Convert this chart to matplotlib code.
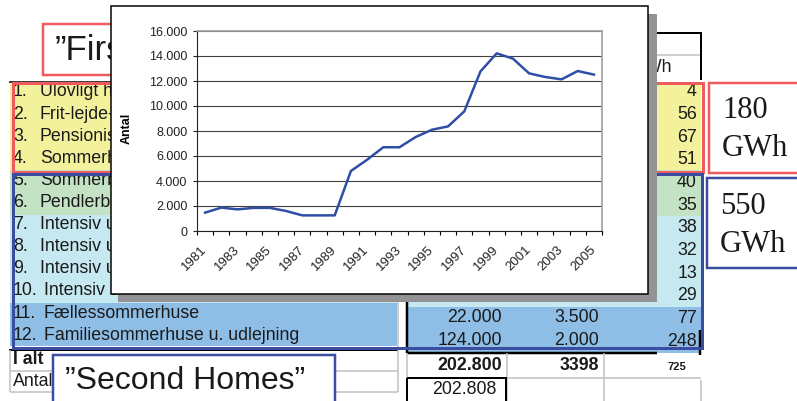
import matplotlib.pyplot as plt
from matplotlib.patches import Rectangle

plt.rcParams['font.family'] = ['Liberation Sans', 'DejaVu Sans']

# line chart data (Antal per year)
years = list(range(1981, 2006))
antal = [1470, 1870, 1730, 1850, 1850, 1600, 1250, 1250, 1250, 4800,
         5700, 6700, 6700, 7520, 8100, 8370, 9570, 12770, 14210, 13790,
         12610, 12320, 12130, 12800, 12510]

# background table (row labels only as far as they show behind the chart)
row_labels = ["Ulovligt h", "Frit-lejde-", "Pensionis", "Sommerh", "Sommerb",
              "Pendlerbo", "Intensiv u", "Intensiv u", "Intensiv u", "Intensiv u",
              "Fællessommerhuse", "Familiesommerhuse u. udlejning"]
gwh = [4, 56, 67, 51, 40, 35, 38, 32, 13, 29, 77, 248]
antal_col = ["", "", "", "", "", "", "", "", "", "", "22.000", "124.000"]
forbrug_col = ["", "", "", "", "", "", "", "", "", "", "3.500", "2.000"]
total_antal = "202.800"
total_forbrug = "3398"
total_gwh = "725"
antal_check = "202.808"
first_gwh = ["180", "GWh"]
second_gwh = ["550", "GWh"]

YELLOW = '#f4f19c'
GREEN = '#c4e2c4'
LBLUE = '#c6e8f0'
MBLUE = '#8ebee6'
RED = '#ee5a5e'
BLUE = '#3b4da0'
TXT = '#1a1a1a'
PX = 0.72  # points per pixel at dpi 100
FS = 12.8

fig = plt.figure(figsize=(7.97, 4.01), dpi=100)
bg = fig.add_axes([0, 0, 1, 1])
bg.set_xlim(0, 797)
bg.set_ylim(401, 0)
bg.axis('off')


def box(x0, y0, x1, y1, fc='none', ec='none', lw=0, z=1):
    bg.add_patch(Rectangle((x0, y0), x1 - x0, y1 - y0, facecolor=fc,
                           edgecolor=ec, linewidth=lw * PX, zorder=z))


def line(xs, ys, c, lw, z=3):
    bg.plot(xs, ys, color=c, lw=lw * PX, zorder=z, solid_capstyle='butt')


# row fills, left and right part of the table
for x0, x1, bands in [(10, 397, [(83, 170, YELLOW), (170, 215, GREEN), (215, 303, LBLUE), (303, 346, MBLUE)]),
                      (408, 701, [(83, 170, YELLOW), (170, 216, GREEN), (216, 307, LBLUE), (307, 353, MBLUE)])]:
    for y0, y1, c in bands:
        box(x0, y0, x1, y1, fc=c, z=1)

# row texts
for i, (lab, v) in enumerate(zip(row_labels, gwh)):
    yl = 92 + 22.1 * i
    yr = 91.7 + 22.7 * i
    bg.text(13, yl, f"{i + 1}.", fontsize=FS, color=TXT, va='center', zorder=2)
    bg.text(40 if i < 9 else 44, yl, lab, fontsize=FS, color=TXT, va='center', zorder=2)
    bg.text(697, yr, str(v), fontsize=FS, color=TXT, va='center', ha='right', zorder=2)
    if antal_col[i]:
        bg.text(502, yr - 1, antal_col[i], fontsize=FS, color=TXT, va='center', ha='right', zorder=2)
        bg.text(599, yr - 1, forbrug_col[i], fontsize=FS, color=TXT, va='center', ha='right', zorder=2)

# table lines
line([9, 120], [82, 82], 'black', 1.5)
line([9, 398], [350, 350], 'black', 2)
for y in (371, 392):
    line([10, 398], [y, y], '#c0c0c0', 1.5)
line([10, 10], [350, 392], '#c0c0c0', 1.5)
line([398, 398], [300, 392], '#c0c0c0', 1.5)
line([407, 407], [300, 353], 'black', 2.5)
line([407, 657], [353, 353], 'black', 2.5)
line([700.5, 700.5], [330, 355], 'black', 2.5)
line([507, 701], [378, 378], '#c0c0c0', 1.5)
for x in (407, 507, 604):
    line([x, x], [353, 401], '#c0c0c0', 1.5)
line([701, 701], [380, 401], '#c0c0c0', 1.5)
box(407, 378, 506, 405, ec='black', lw=2, z=3)

# totals
bg.text(13, 360, "I alt", fontsize=FS, fontweight='bold', color=TXT, va='center', zorder=2)
bg.text(13, 381, "Antal", fontsize=FS, color=TXT, va='center', zorder=2)
bg.text(502, 366, total_antal, fontsize=FS, fontweight='bold', color=TXT, va='center', ha='right', zorder=2)
bg.text(599, 366, total_forbrug, fontsize=FS, fontweight='bold', color=TXT, va='center', ha='right', zorder=2)
bg.text(677, 367, total_gwh, fontsize=8, fontweight='bold', color=TXT, va='center', ha='center', zorder=2)
bg.text(497, 390, antal_check, fontsize=FS, color=TXT, va='center', ha='right', zorder=2)

# header of the GWh column
line([640, 701], [33, 33], 'black', 2)
line([640, 701], [55, 55], '#c0c0c0', 1.5)
line([701, 701], [32, 80], 'black', 2)
bg.text(672, 68, "GWh", fontsize=FS, color=TXT, va='center', ha='right', zorder=2)

# group frames
box(13, 83, 703, 172, ec=RED, lw=3, z=4)
box(13, 174, 702, 348, ec=BLUE, lw=3, z=5)

# label boxes
box(43, 24, 160, 75, fc='white', ec=RED, lw=2.5, z=6)
bg.text(55, 50, "\u201dFirs", fontsize=25, color=TXT, va='center', zorder=6)
box(53, 355, 335, 430, fc='white', ec=BLUE, lw=2.5, z=6)
bg.text(65, 381, "\u201dSecond Homes\u201d", fontsize=23, color=TXT, va='center', zorder=6)

box(709, 83, 830, 173, fc='white', ec=RED, lw=2.5, z=6)
bg.text(722, 111, first_gwh[0], fontsize=22, family='Liberation Serif', color=TXT, va='center', zorder=6)
bg.text(722, 148, first_gwh[1], fontsize=22, family='Liberation Serif', color=TXT, va='center', zorder=6)
box(707, 178, 830, 268, fc='white', ec=BLUE, lw=2.5, z=6)
bg.text(720, 207, second_gwh[0], fontsize=22, family='Liberation Serif', color=TXT, va='center', zorder=6)
bg.text(720, 245, second_gwh[1], fontsize=22, family='Liberation Serif', color=TXT, va='center', zorder=6)

# inset chart frame with shadow
box(118, 14, 657, 302, fc='#939396', z=8)
box(111, 6, 648, 294, fc='white', ec='black', lw=1.5, z=9)

# line chart
ax = fig.add_axes([197 / 797, (401 - 231) / 401, 405 / 797, 200 / 401])
ax.plot(range(len(years)), antal, color='#2f4ea6', lw=1.8, zorder=3)
ax.set_xlim(-0.5, len(years) - 0.5)
ax.set_ylim(0, 16000)
ax.set_yticks(range(0, 16001, 2000))
ax.set_yticklabels([f"{v:,}".replace(',', '.') for v in range(0, 16001, 2000)])
ax.yaxis.grid(True, color='#404040', lw=0.8)
ax.set_axisbelow(True)

ax.set_xticks([i - 0.5 for i in range(len(years) + 1)])
ax.set_xticklabels([])
ax.set_xticks(range(0, len(years), 2), minor=True)
ax.set_xticklabels([str(y) for y in years[::2]], minor=True, rotation=45,
                   ha='right', va='center', rotation_mode='anchor')

ax.tick_params(axis='y', length=3, width=0.8, labelsize=9, pad=4, colors='#222222')
ax.tick_params(axis='x', which='major', length=3, width=0.8)
ax.tick_params(axis='x', which='minor', length=0, labelsize=9.5, pad=12, colors='#222222')

for s in ('left', 'bottom'):
    ax.spines[s].set_color('#222222')
    ax.spines[s].set_linewidth(0.8)
for s in ('top', 'right'):
    ax.spines[s].set_color('#a0a0a0')
    ax.spines[s].set_linewidth(1.2)

ax.set_ylabel("Antal", fontsize=9, fontweight='bold')
ax.yaxis.set_label_coords(-0.16, 0.515)

fig.savefig('out.png', dpi=100)
